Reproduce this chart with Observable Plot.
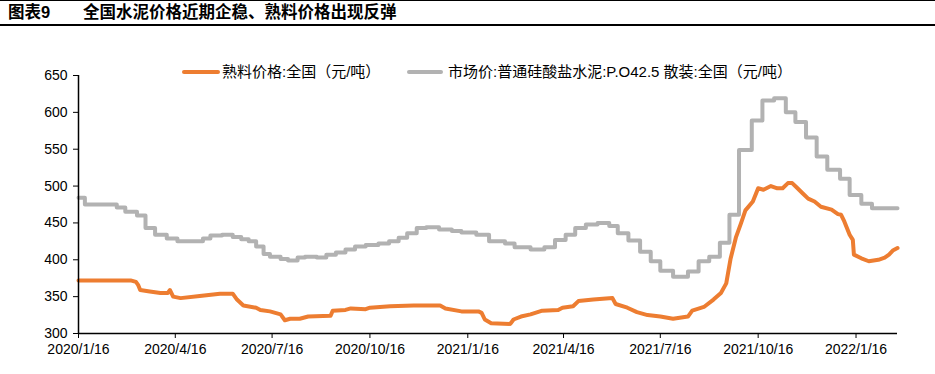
<!DOCTYPE html>
<html><head><meta charset="utf-8">
<script src="https://cdn.jsdelivr.net/npm/d3@7"></script>
<script src="https://cdn.jsdelivr.net/npm/@observablehq/plot@0.6"></script>
<style>
body{margin:0;background:#fff;font-family:"Liberation Sans",Arial,"Noto Sans CJK SC",sans-serif;color:#000}
#wrap{position:relative;width:935px;height:374px;overflow:hidden;background:#fff}
#head{position:relative;height:30px}
#topline{position:absolute;left:0;width:935px;top:0;height:1px;background:#000}
#titleline{position:absolute;left:0;width:935px;top:24px;height:2px;background:#000}
.t{position:absolute;top:3px;font-size:16.5px;font-weight:bold;line-height:18px;font-family:"Liberation Sans","Noto Sans CJK SC",sans-serif}
#legend{position:absolute;top:62px;left:0;width:935px;height:20px;font-size:15px;line-height:19px;font-family:"Liberation Sans","Noto Sans CJK SC",sans-serif}
.sw{position:absolute;top:8px;height:4px;border-radius:2px}
.lt{position:absolute;top:0;white-space:nowrap}
</style></head>
<body>
<div id="wrap">
  <div id="head">
    <div id="topline"></div>
    <div class="t" id="t1" style="left:8px"></div>
    <div class="t" id="t2" style="left:83px"></div>
    <div id="titleline"></div>
  </div>
  <div id="chart"></div>
  <div id="legend"></div>
</div>
<script>
const titleLabel = "图表9";
const titleText = "全国水泥价格近期企稳、熟料价格出现反弹";
const seriesNames = ["熟料价格:全国（元/吨）", "市场价:普通硅酸盐水泥:P.O42.5 散装:全国（元/吨）"];
const seriesColors = ["#ED7D31", "#B2B2B2"];
const yTicks = [300, 350, 400, 450, 500, 550, 600, 650];
const xTickLabels = ["2020/1/16","2020/4/16","2020/7/16","2020/10/16","2021/1/16","2021/4/16","2021/7/16","2021/10/16","2022/1/16"];

const clinkerDates = ["2020-01-16","2020-03-05","2020-03-10","2020-03-12","2020-03-14","2020-03-23","2020-04-02","2020-04-09","2020-04-11","2020-04-14","2020-04-21","2020-05-09","2020-05-28","2020-06-09","2020-06-13","2020-06-19","2020-07-01","2020-07-05","2020-07-14","2020-07-24","2020-07-28","2020-08-02","2020-08-11","2020-08-19","2020-09-09","2020-09-11","2020-09-23","2020-09-28","2020-10-12","2020-10-16","2020-11-04","2020-11-26","2020-12-21","2020-12-26","2021-01-10","2021-01-26","2021-01-29","2021-02-01","2021-02-07","2021-02-25","2021-02-28","2021-03-07","2021-03-16","2021-03-27","2021-04-11","2021-04-15","2021-04-25","2021-04-30","2021-05-14","2021-06-01","2021-06-04","2021-06-15","2021-06-24","2021-07-04","2021-07-16","2021-07-28","2021-08-11","2021-08-15","2021-08-26","2021-09-04","2021-09-11","2021-09-16","2021-09-20","2021-09-25","2021-09-30","2021-10-04","2021-10-11","2021-10-16","2021-10-21","2021-10-28","2021-11-03","2021-11-08","2021-11-13","2021-11-17","2021-11-22","2021-11-27","2021-12-02","2021-12-08","2021-12-14","2021-12-24","2021-12-30","2022-01-02","2022-01-05","2022-01-10","2022-01-13","2022-01-14","2022-01-21","2022-01-28","2022-02-06","2022-02-12","2022-02-16","2022-02-20","2022-02-24"];
const clinkerValues = [372,372,370,366,359,357,355,355,359,350,348,351,354,354,346,338,335,332,330,326,318,320,320,323,324,331,332,334,333,335,337,338,338,334,330,330,328,319,314,313,319,323,326,331,332,335,337,344,346,348,340,335,329,325,323,320,323,331,336,346,355,368,401,430,450,467,479,497,495,500,497,497,504,504,497,490,483,479,472,468,462,461,452,434,427,407,402,398,400,403,407,413,416];

const cementDates = ["2020-01-16","2020-01-22","2020-02-21","2020-02-29","2020-03-11","2020-03-19","2020-03-28","2020-04-08","2020-04-18","2020-05-12","2020-05-19","2020-05-30","2020-06-09","2020-06-17","2020-06-24","2020-07-01","2020-07-08","2020-07-14","2020-07-24","2020-07-31","2020-08-09","2020-08-16","2020-08-27","2020-09-05","2020-09-14","2020-09-23","2020-10-02","2020-10-12","2020-10-24","2020-11-03","2020-11-12","2020-11-20","2020-11-29","2020-12-08","2020-12-20","2021-01-01","2021-01-10","2021-01-24","2021-02-05","2021-02-20","2021-03-01","2021-03-16","2021-03-29","2021-04-08","2021-04-18","2021-04-27","2021-05-07","2021-05-18","2021-05-29","2021-06-06","2021-06-16","2021-06-27","2021-07-07","2021-07-16","2021-07-28","2021-08-11","2021-08-21","2021-08-31","2021-09-10","2021-09-19","2021-09-28","2021-10-10","2021-10-20","2021-10-31","2021-11-11","2021-11-20","2021-11-30","2021-12-10","2021-12-20","2022-01-01","2022-01-10","2022-01-21","2022-01-31","2022-02-24"];
const cementValues = [484,475,471,465,460,443,434,429,425,429,433,434,431,428,425,418,408,404,401,399,403,404,403,407,410,414,418,420,422,425,430,436,443,444,441,439,437,434,425,422,417,414,417,427,434,443,448,450,446,436,426,411,398,385,377,384,398,404,423,461,549,589,616,619,600,587,566,540,522,510,488,476,470,470];

const parse = s => new Date(s + "T00:00:00Z");
const clinker = clinkerDates.map((d, i) => ({date: parse(d), value: clinkerValues[i]}));
const cement = cementDates.map((d, i) => ({date: parse(d), value: cementValues[i]}));
const xTicks = xTickLabels.map(s => { const [y,m,d] = s.split("/").map(Number); return new Date(Date.UTC(y, m-1, d)); });
const fmt = d => `${d.getUTCFullYear()}/${d.getUTCMonth()+1}/${d.getUTCDate()}`;

document.getElementById("t1").textContent = titleLabel;
document.getElementById("t2").textContent = titleText;

const start = parse("2020-01-16"), end = parse("2022-02-24");
const chart = Plot.plot({
  width: 935, height: 344,
  marginTop: 45, marginBottom: 41, marginLeft: 78, marginRight: 38,
  style: {fontSize: "14px", fontFamily: "'Liberation Sans', Arial, sans-serif", color: "#000", background: "#fff"},
  x: {type: "utc", domain: [start, end]},
  y: {domain: [300, 650]},
  marks: [
    Plot.axisY({ticks: yTicks, tickSize: 5, tickPadding: 6, label: null, fill: "#000", stroke: "#000"}),
    Plot.axisX({ticks: xTicks, tickFormat: fmt, tickSize: 5, tickPadding: 6, label: null, fill: "#000", stroke: "#000"}),
    Plot.line(clinker, {x: "date", y: "value", stroke: seriesColors[0], strokeWidth: 4, curve: "linear", strokeLinejoin: "round"}),
    Plot.line(cement, {x: "date", y: "value", stroke: seriesColors[1], strokeWidth: 4, curve: "step-after"}),
    Plot.ruleX([start], {stroke: "#000", strokeWidth: 1.5}),
    Plot.ruleY([300], {stroke: "#000", strokeWidth: 1.5})
  ]
});
document.getElementById("chart").appendChild(chart);

const legend = document.getElementById("legend");
const items = [{sw: 182, sww: 38, tx: 222}, {sw: 407, sww: 36, tx: 448}];
items.forEach((it, i) => {
  const s = document.createElement("div");
  s.className = "sw"; s.style.left = it.sw + "px"; s.style.width = it.sww + "px"; s.style.background = seriesColors[i];
  legend.appendChild(s);
  const t = document.createElement("div");
  t.className = "lt"; t.style.left = it.tx + "px"; t.textContent = seriesNames[i];
  legend.appendChild(t);
});
</script>
</body></html>
